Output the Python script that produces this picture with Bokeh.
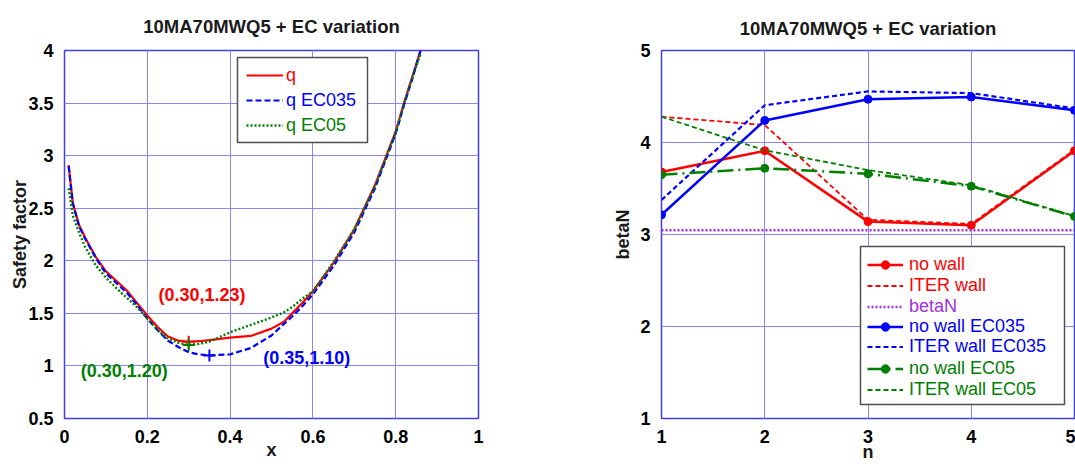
from bokeh.plotting import figure
from bokeh.layouts import row
from bokeh.models import Range1d, FixedTicker, Legend, LegendItem, BoxAnnotation, Label
from bokeh.embed import file_html
from bokeh.resources import INLINE

FONT = "Liberation Sans"
RED = "#ff0000"
BLUE = "#0000ff"
GREEN = "#008000"
PURPLE = "#a030e0"
GRID = "#8888f0"
FRAME = "#4040e6"
BOXLINE = "#505050"

title_text = "10MA70MWQ5 + EC variation"

# ---------------- left panel: safety factor profiles ----------------
x_q = [0.01, 0.02, 0.035, 0.05, 0.075, 0.1, 0.125, 0.15, 0.175, 0.2, 0.225, 0.25,
       0.275, 0.3, 0.325, 0.35, 0.4, 0.45, 0.5, 0.53, 0.55, 0.575, 0.6, 0.65,
       0.7, 0.75, 0.8, 0.82, 0.84, 0.86]
q = [2.91, 2.55, 2.34, 2.22, 2.04, 1.90, 1.81, 1.72, 1.60, 1.48, 1.37, 1.28,
     1.24, 1.23, 1.235, 1.245, 1.27, 1.285, 1.355, 1.42, 1.50, 1.60, 1.71, 1.98,
     2.30, 2.72, 3.23, 3.50, 3.75, 4.00]
q_ec035 = [2.90, 2.55, 2.33, 2.21, 2.03, 1.88, 1.79, 1.70, 1.58, 1.45, 1.34, 1.24,
           1.18, 1.13, 1.11, 1.10, 1.11, 1.17, 1.29, 1.40, 1.47, 1.57, 1.68, 1.95,
           2.27, 2.69, 3.21, 3.48, 3.73, 4.00]
q_ec05 = [2.69, 2.43, 2.27, 2.13, 1.96, 1.84, 1.74, 1.65, 1.56, 1.45, 1.34, 1.26,
          1.22, 1.20, 1.21, 1.23, 1.32, 1.39, 1.46, 1.51, 1.56, 1.64, 1.71, 1.99,
          2.30, 2.71, 3.22, 3.49, 3.74, 3.97]

min_x = [0.30, 0.35, 0.30]
min_y = [1.23, 1.10, 1.20]
min_labels = ["(0.30,1.23)", "(0.35,1.10)", "(0.30,1.20)"]
min_colors = [RED, BLUE, GREEN]
label_x = [0.227, 0.48, 0.039]
label_y = [1.67, 1.08, 0.95]

left_x_ticks = [0, 0.2, 0.4, 0.6, 0.8, 1]
left_x_labels = ["0", "0.2", "0.4", "0.6", "0.8", "1"]
left_y_ticks = [0.5, 1, 1.5, 2, 2.5, 3, 3.5, 4]
left_y_labels = ["0.5", "1", "1.5", "2", "2.5", "3", "3.5", "4"]

# ---------------- right panel: betaN limits vs n ----------------
n = [1, 2, 3, 4, 5]
no_wall = [3.68, 3.91, 3.14, 3.10, 3.91]
iter_wall = [4.28, 4.19, 3.16, 3.115, 3.92]
betaN = [3.045, 3.045, 3.045, 3.045, 3.045]
no_wall_ec035 = [3.215, 4.24, 4.47, 4.495, 4.35]
iter_wall_ec035 = [3.375, 4.405, 4.555, 4.537, 4.37]
no_wall_ec05 = [3.65, 3.72, 3.66, 3.525, 3.197]
iter_wall_ec05 = [4.28, 3.915, 3.70, 3.535, 3.20]

right_ticks = [1, 2, 3, 4, 5]
right_labels = ["1", "2", "3", "4", "5"]


def style(p, xlabel, ylabel, xt, xl, yt, yl, ylabel_standoff, title_standoff, xlabel_standoff):
    p.title.text = title_text
    p.title.align = "center"
    p.title.text_font = FONT
    p.title.text_font_size = "18.5px"
    p.title.text_font_style = "bold"
    p.title.text_color = "#1a1a1a"
    p.title.standoff = title_standoff
    p.xaxis.axis_label = xlabel
    p.yaxis.axis_label = ylabel
    for ax in p.axis:
        ax.axis_label_text_font = FONT
        ax.axis_label_text_font_size = "18px"
        ax.axis_label_text_font_style = "bold"
        ax.axis_label_text_color = "#1a1a1a"
        ax.major_label_text_font = FONT
        ax.major_label_text_font_size = "18px"
        ax.major_label_text_font_style = "bold"
        ax.major_label_text_color = "#000000"
        ax.axis_line_color = None
        ax.major_tick_line_color = None
        ax.minor_tick_line_color = None
    p.xaxis.ticker = FixedTicker(ticks=xt)
    p.yaxis.ticker = FixedTicker(ticks=yt)
    p.xaxis.major_label_overrides = dict(zip(xt, xl))
    p.yaxis.major_label_overrides = dict(zip(yt, yl))
    p.xaxis.major_label_standoff = 5
    p.xaxis.axis_label_standoff = xlabel_standoff
    p.yaxis.major_label_standoff = 5
    p.yaxis.axis_label_standoff = ylabel_standoff
    p.grid.grid_line_color = GRID
    p.grid.grid_line_width = 1
    p.outline_line_color = FRAME
    p.outline_line_width = 1.5
    p.background_fill_color = "white"
    p.border_fill_color = "white"


def add_legend(p, entries, box, x0, centers, glyph_w, row_h, standoff):
    left, right, bottom, top = box
    p.add_layout(BoxAnnotation(left=left, right=right, bottom=bottom, top=top,
                               left_units="screen", right_units="screen",
                               bottom_units="screen", top_units="screen",
                               fill_color="white", fill_alpha=1.0,
                               line_color=BOXLINE, line_width=1.5, line_alpha=1.0))
    for (label, rends, color), yc in zip(entries, centers):
        lg = Legend(items=[LegendItem(label=label, renderers=rends)],
                    location=(x0, yc - row_h / 2),
                    border_line_alpha=0, background_fill_alpha=0,
                    padding=0, margin=0, spacing=0,
                    glyph_width=glyph_w, glyph_height=row_h, label_height=row_h,
                    label_standoff=standoff, label_text_color=color,
                    label_text_font=FONT, label_text_font_size="18px")
        p.add_layout(lg)


# ---------------- build left figure ----------------
p1 = figure(width=600, height=464, output_backend="svg", toolbar_location=None,
            x_range=Range1d(0, 1), y_range=Range1d(0.5, 4),
            min_border_left=64, min_border_right=122, min_border_top=48, min_border_bottom=41)
style(p1, "x", "Safety factor", left_x_ticks, left_x_labels, left_y_ticks, left_y_labels,
      -5, 27, -6)

r_q = p1.line(x_q, q, line_color=RED, line_width=2.2)
r_q35 = p1.line(x_q, q_ec035, line_color=BLUE, line_width=2.2, line_dash="6 3")
r_q05 = p1.line(x_q, q_ec05, line_color=GREEN, line_width=2.4, line_dash="2 2")
for mx, my, c in zip(min_x, min_y, min_colors):
    p1.scatter([mx], [my], marker="cross", size=12, line_color=c, line_width=2)
for lx, ly, t, c in zip(label_x, label_y, min_labels, min_colors):
    p1.add_layout(Label(x=lx, y=ly, text=t, text_color=c, text_font=FONT,
                        text_font_size="18px", text_font_style="bold",
                        text_align="left", text_baseline="middle"))

add_legend(p1, [("q", [r_q], RED), ("q EC035", [r_q35], BLUE), ("q EC05", [r_q05], GREEN)],
           (173, 303, 276, 361), 182, [343, 318, 293], 37, 22, 3)

# ---------------- build right figure ----------------
p2 = figure(width=475, height=464, output_backend="svg", toolbar_location=None,
            x_range=Range1d(1, 5), y_range=Range1d(1, 5),
            min_border_left=61, min_border_right=1, min_border_top=46, min_border_bottom=43)
style(p2, "n", "betaN", right_ticks, right_labels, right_ticks, right_labels, 4, 24, -4)

l_nw = p2.line(n, no_wall, line_color=RED, line_width=2.5)
s_nw = p2.scatter(n, no_wall, size=8, color=RED)
l_iw = p2.line(n, iter_wall, line_color=RED, line_width=1.8, line_dash="5 3")
l_bn = p2.line(n, betaN, line_color=PURPLE, line_width=2.5, line_dash="2 2")
l_nw35 = p2.line(n, no_wall_ec035, line_color=BLUE, line_width=2.5)
s_nw35 = p2.scatter(n, no_wall_ec035, size=8, color=BLUE)
l_iw35 = p2.line(n, iter_wall_ec035, line_color=BLUE, line_width=2.2, line_dash="5 3")
l_nw05 = p2.line(n, no_wall_ec05, line_color=GREEN, line_width=2.5, line_dash="16 5 2 5")
s_nw05 = p2.scatter(n, no_wall_ec05, size=8, color=GREEN)
l_iw05 = p2.line(n, iter_wall_ec05, line_color=GREEN, line_width=1.8, line_dash="5 3")

add_legend(p2, [("no wall", [l_nw, s_nw], RED),
                ("ITER wall", [l_iw], RED),
                ("betaN", [l_bn], PURPLE),
                ("no wall EC035", [l_nw35, s_nw35], BLUE),
                ("ITER wall EC035", [l_iw35], BLUE),
                ("no wall EC05", [l_nw05, s_nw05], GREEN),
                ("ITER wall EC05", [l_iw05], GREEN)],
           (199, 403, 14, 172), 206, [154, 133, 112, 92, 72, 50, 29], 36, 21, 6)

layout = row(p1, p2)
open("out.html", "w").write(file_html(layout, INLINE))
